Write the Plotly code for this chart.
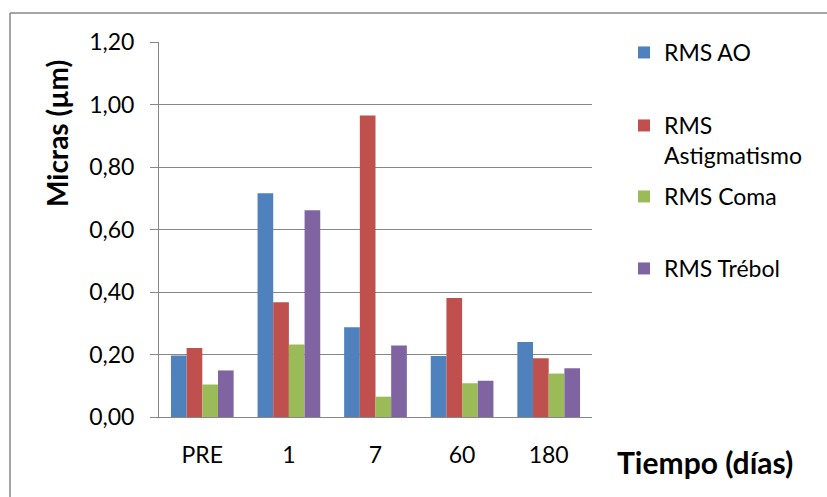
import plotly.graph_objects as go

# Time points (days after treatment) and RMS wavefront aberrations in microns
tiempos = ["PRE", "1", "7", "60", "180"]
rms_ao = [0.197, 0.716, 0.287, 0.195, 0.240]
rms_astigmatismo = [0.221, 0.367, 0.965, 0.381, 0.188]
rms_coma = [0.104, 0.232, 0.065, 0.108, 0.139]
rms_trebol = [0.149, 0.662, 0.229, 0.116, 0.156]

series_names = ["RMS AO", "RMS<br>Astigmatismo", "RMS Coma", "RMS Trébol"]
series_values = [rms_ao, rms_astigmatismo, rms_coma, rms_trebol]
series_colors = ["#4F81BD", "#C0504D", "#9BBB59", "#8064A2"]

W, H = 827, 497
ML, MR, MT, MB = 159, 235, 42, 80
PW, PH = W - ML - MR, H - MT - MB

FONT = "Lato"
GRID = "#878787"
TXT = 23


def px_x(x):
    return (x - ML) / PW


def px_y(y):
    return (H - MB - y) / PH


fig = go.Figure()
legend_ids = ["legend", "legend2", "legend3", "legend4"]
for name, vals, color, lg in zip(series_names, series_values, series_colors, legend_ids):
    fig.add_trace(go.Bar(
        x=tiempos, y=vals, name=name, marker=dict(color=color, line=dict(width=0)),
        legend=lg,
    ))

legend_tops = [31, 104, 175, 247]
legend_common = dict(
    font=dict(family=FONT, size=TXT, color="#000000"),
    bgcolor="rgba(0,0,0,0)", borderwidth=0, xanchor="left", yanchor="top",
    valign="top", itemclick=False, itemdoubleclick=False,
)
legends = {}
for lg, top in zip(legend_ids, legend_tops):
    legends[lg] = dict(x=px_x(624), y=px_y(top), **legend_common)

fig.update_layout(
    width=W, height=H,
    margin=dict(l=ML, r=MR, t=MT, b=MB),
    paper_bgcolor="white", plot_bgcolor="white",
    separators=",.",
    barmode="group", bargap=0.276, bargroupgap=0,
    showlegend=True,
    font=dict(family=FONT, size=TXT, color="#000000"),
    xaxis=dict(
        type="category", showgrid=False, showline=True, linecolor=GRID, linewidth=1,
        ticks="", tickfont=dict(family=FONT, size=TXT), ticklabelstandoff=17,
    ),
    yaxis=dict(
        range=[0, 1.2], dtick=0.2, tickformat=".2f", showgrid=True, gridcolor=GRID,
        gridwidth=1, showline=True, linecolor=GRID, linewidth=1, ticks="outside",
        ticklen=8, tickcolor=GRID, tickfont=dict(family=FONT, size=TXT),
        ticklabelstandoff=11, zeroline=False,
    ),
    annotations=[
        dict(text="<b>Micras (µm)</b>", textangle=-90, xref="paper", yref="paper",
             x=px_x(57), y=px_y(134), xanchor="center", yanchor="middle",
             showarrow=False, font=dict(family=FONT, size=28, color="#000000")),
        dict(text="<b>Tiempo (días)</b>", xref="paper", yref="paper",
             x=px_x(705), y=px_y(462), xanchor="center", yanchor="middle",
             showarrow=False, font=dict(family=FONT, size=30, color="#000000")),
    ],
    shapes=[
        dict(type="line", xref="paper", yref="paper", x0=px_x(10), x1=px_x(W + 5),
             y0=px_y(13), y1=px_y(13), line=dict(color=GRID, width=1.5)),
        dict(type="line", xref="paper", yref="paper", x0=px_x(10), x1=px_x(10),
             y0=px_y(13), y1=px_y(H + 5), line=dict(color=GRID, width=1.5)),
    ],
    **legends,
)

fig.write_html("out.html")
